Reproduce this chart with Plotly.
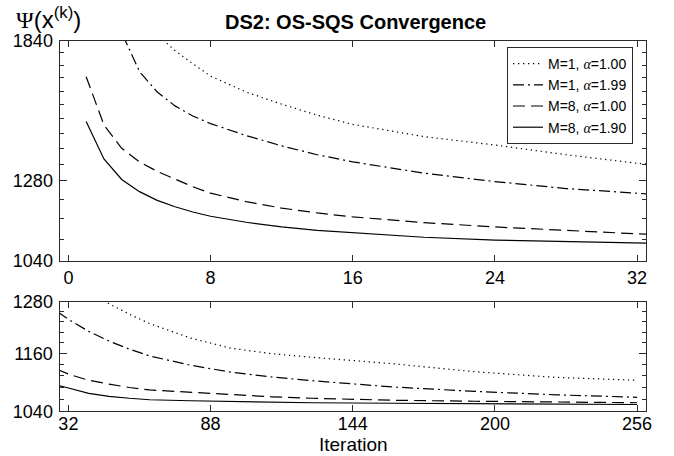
import math
import plotly.graph_objects as go

iters = [1, 2, 3, 4, 5, 6, 7, 8, 10, 12, 14, 16, 20, 24, 28, 32,
         40, 48, 56, 64, 80, 96, 112, 128, 160, 192, 224, 256]

m1_a100 = [3000, 2500, 2200, 2000, 1870, 1795, 1735, 1680, 1612, 1562, 1518, 1482, 1436, 1405, 1370, 1340,
           1305, 1275, 1250, 1228, 1195, 1172, 1160, 1152, 1138, 1121, 1109, 1103]
m1_a199 = [2700, 2150, 1880, 1700, 1612, 1555, 1515, 1485, 1440, 1402, 1370, 1345, 1306, 1278, 1255, 1238,
           1210, 1188, 1170, 1155, 1135, 1120, 1110, 1102, 1089, 1080, 1073, 1068]
m8_a100 = [1677, 1480, 1393, 1345, 1312, 1286, 1261, 1240, 1213, 1193, 1178, 1166, 1149, 1136, 1125, 1116,
           1103, 1095, 1088, 1083, 1078, 1073, 1069, 1066, 1062, 1060, 1058, 1057]
m8_a190 = [1493, 1355, 1285, 1245, 1217, 1197, 1181, 1168, 1150, 1136, 1126, 1119, 1106, 1098, 1092, 1087,
           1076, 1070, 1066, 1063, 1061, 1059.5, 1058, 1057, 1056, 1055, 1054.5, 1053.5]

series_names = ["M=1, α=1.00", "M=1, α=1.99", "M=8, α=1.00", "M=8, α=1.90"]
series_vals = [m1_a100, m1_a199, m8_a100, m8_a190]
dashes = ["1.3px,3.7px", "11px,4px,2px,4px", "12px,6px", "solid"]

top_xticks = [0, 8, 16, 24, 32]
bot_xticks = [32, 88, 144, 200, 256]
top_yticks = [1040, 1280, 1840]
bot_yticks = [1040, 1160, 1280]
top_yminor = [1100, 1160, 1220, 1336, 1392, 1448, 1504, 1560, 1616, 1672, 1728, 1784]
bot_yminor = [1064, 1088, 1112, 1136, 1184, 1208, 1232, 1256]

W, H = 674, 456
SANS = "Liberation Sans, Arial, sans-serif"
axcol = "#2a2a2a"
fig = go.Figure()


def legend_label(name):
    pre, post = name.split("α")
    return pre + "<span style=\"font-family:Liberation Serif;font-style:italic\">α</span>" + post


for name, vals, dsh in zip(series_names, series_vals, dashes):
    fig.add_trace(go.Scatter(x=iters, y=vals, mode="lines", name=legend_label(name),
                             line=dict(color="black", width=1.2, dash=dsh),
                             xaxis="x", yaxis="y", showlegend=True))
for name, vals, dsh in zip(series_names, series_vals, dashes):
    fig.add_trace(go.Scatter(x=iters, y=vals, mode="lines", name=name,
                             line=dict(color="black", width=1.2, dash=dsh),
                             xaxis="x2", yaxis="y2", showlegend=False))
# invisible carriers so the major-tick overlay axes get drawn
fig.add_trace(go.Scatter(x=iters, y=m8_a190, xaxis="x", yaxis="y3", opacity=0,
                         showlegend=False, hoverinfo="skip"))
fig.add_trace(go.Scatter(x=iters, y=m8_a190, xaxis="x2", yaxis="y4", opacity=0,
                         showlegend=False, hoverinfo="skip"))

tickfont = dict(family=SANS, size=18, color="black")
xdom = [59.5 / W, 646 / W]
top_dom = [1 - 261 / H, 1 - 41 / H]
bot_dom = [1 - 411.3 / H, 1 - 301.7 / H]
top_rng = [math.log10(1040), math.log10(1840)]
bot_rng = [math.log10(1040), math.log10(1280)]

common = dict(showline=True, linecolor=axcol, linewidth=1, mirror="ticks", ticks="inside",
              ticklen=6, tickcolor=axcol, tickwidth=1, showgrid=False, zeroline=False,
              tickfont=tickfont, automargin=False)
major_ax = dict(showline=True, linecolor=axcol, linewidth=1, mirror="ticks", ticks="inside",
                ticklen=7, tickcolor=axcol, tickwidth=1, showgrid=False, zeroline=False,
                showticklabels=False, type="log", tickmode="array", automargin=False)


def y_all(major, minor):
    vals = sorted(major + minor)
    text = [str(v) if v in major else "" for v in vals]
    return vals, text


ty_vals, ty_text = y_all(top_yticks, top_yminor)
by_vals, by_text = y_all(bot_yticks, bot_yminor)

fig.update_layout(
    width=W, height=H,
    margin=dict(l=0, r=0, t=0, b=0, autoexpand=False),
    paper_bgcolor="white", plot_bgcolor="white",
    xaxis=dict(common, domain=xdom, range=[-0.5, 32.5], tickmode="array", tickvals=top_xticks,
               ticktext=[str(v) for v in top_xticks], anchor="y"),
    yaxis=dict(common, type="log", domain=top_dom, range=top_rng, tickmode="array",
               tickvals=ty_vals, ticktext=ty_text, anchor="x", ticklen=4, ticklabelstandoff=2),
    yaxis3=dict(major_ax, overlaying="y", anchor="x", side="left", range=top_rng,
                tickvals=top_yticks),
    xaxis2=dict(common, domain=xdom, range=[28.5, 259.5], tickmode="array", tickvals=bot_xticks,
                ticktext=[str(v) for v in bot_xticks], anchor="y2", ticklabelstandoff=-4),
    yaxis2=dict(common, type="log", domain=bot_dom, range=bot_rng, tickmode="array",
                tickvals=by_vals, ticktext=by_text, anchor="x2", ticklen=4, ticklabelstandoff=2),
    yaxis4=dict(major_ax, overlaying="y2", anchor="x2", side="left", range=bot_rng,
                tickvals=bot_yticks),
    legend=dict(x=633 / W, xanchor="right", y=1 - 47 / H, yanchor="top",
                bgcolor="white", bordercolor=axcol, borderwidth=1,
                font=dict(family=SANS, size=14, color="black"),
                tracegroupgap=0),
    showlegend=True,
)

fig.add_annotation(text="<b>DS2: OS-SQS Convergence</b>", xref="paper", yref="paper",
                   x=355 / W, y=1 - 22 / H, xanchor="center", yanchor="middle", showarrow=False,
                   font=dict(family=SANS, size=20, color="black"))
fig.add_annotation(text="<span style=\"font-family:Liberation Serif\">Ψ</span>(x<sup>(k)</sup>)",
                   xref="paper", yref="paper", x=14 / W, y=1 - 18 / H, xanchor="left", yanchor="middle",
                   showarrow=False, font=dict(family=SANS, size=24, color="black"))
fig.add_annotation(text="Iteration", xref="paper", yref="paper",
                   x=353 / W, y=1 - 444 / H, xanchor="center", yanchor="middle", showarrow=False,
                   font=dict(family=SANS, size=19, color="black"))

fig.write_html("out.html")
